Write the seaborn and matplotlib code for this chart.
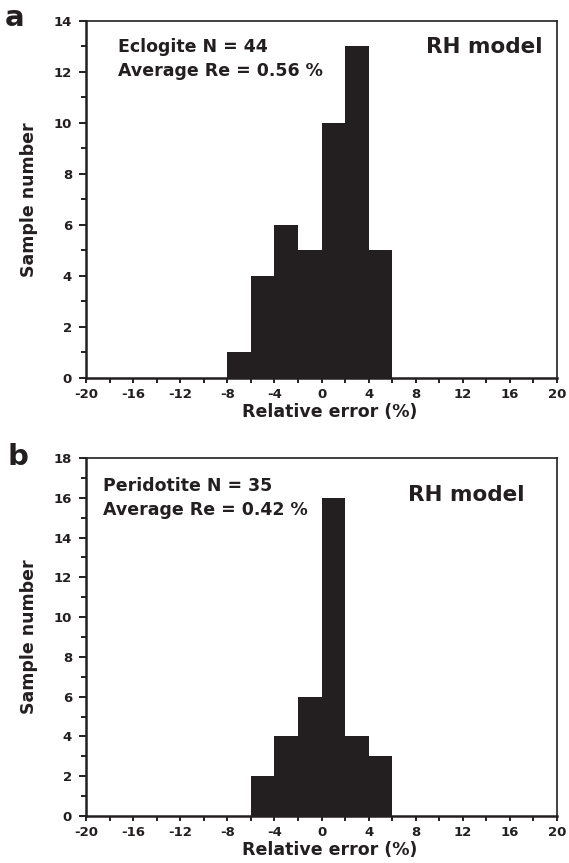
import numpy as np
import pandas as pd
import matplotlib
matplotlib.use("Agg")
import matplotlib.pyplot as plt
import seaborn as sns
from matplotlib.ticker import MultipleLocator

sns.set_theme(style="ticks")
plt.rcParams['font.family'] = ['DejaVu Sans']
plt.rcParams['font.weight'] = 'bold'

# Data
bin_centers_a = [-7, -5, -3, -1, 1, 3, 5]
counts_a = [1, 4, 6, 5, 10, 13, 5]
bin_centers_b = [-5, -3, -1, 1, 3, 5]
counts_b = [2, 4, 6, 16, 4, 3]
edges = [-8, -6, -4, -2, 0, 2, 4, 6]
x_ticks = [-20, -16, -12, -8, -4, 0, 4, 8, 12, 16, 20]

labels_a = ["Eclogite N = 44", "Average Re = 0.56 %"]
labels_b = ["Peridotite N = 35", "Average Re = 0.42 %"]

W, H = 569, 863
fig = plt.figure(figsize=(W/100, H/100), dpi=100)

def ax_rect(l, t, r, b):
    return [l/W, 1 - b/H, (r-l)/W, (b-t)/H]

ax1 = fig.add_axes(ax_rect(86, 21, 557, 378))
ax2 = fig.add_axes(ax_rect(86, 458, 557, 816))

color = '#231f20'

def draw(ax, centers, counts, ymax, lab, letter, pos):
    df = pd.DataFrame({'x': centers, 'w': counts})
    sns.histplot(data=df, x='x', weights='w', bins=edges, ax=ax,
                 color=color, alpha=1, edgecolor=color, linewidth=0)
    ax.set_xlim(-20, 20)
    ax.set_ylim(0, ymax)
    ax.set_xticks(x_ticks)
    ax.set_xticklabels([str(t) for t in x_ticks])
    ax.xaxis.set_minor_locator(MultipleLocator(2))
    ax.yaxis.set_major_locator(MultipleLocator(2))
    ax.yaxis.set_minor_locator(MultipleLocator(1))
    ax.tick_params(axis='x', which='both', direction='out', length=3.8, width=1.4,
                   color=color, labelcolor=color, labelsize=9.5, pad=3.5)
    ax.tick_params(axis='y', which='major', direction='out', length=5, width=1.4,
                   color=color, labelcolor=color, labelsize=9.5, pad=5)
    ax.tick_params(axis='y', which='minor', direction='out', length=3.6, width=1.4, color=color)
    for lbl in ax.get_xticklabels() + ax.get_yticklabels():
        lbl.set_fontweight('bold')
    for side in ['left', 'bottom']:
        ax.spines[side].set_linewidth(1.8)
        ax.spines[side].set_color(color)
    for side in ['top', 'right']:
        ax.spines[side].set_linewidth(1.2)
        ax.spines[side].set_color(color)
    ax.set_xlabel("Relative error (%)", fontsize=12.5, fontweight='bold', color=color, labelpad=1)
    ax.xaxis.label.set_horizontalalignment('center')
    ax.set_ylabel("Sample number", fontsize=12.5, fontweight='bold', color=color, labelpad=11.5)
    tx, ty1, ty2, rx, ry, lx, ly = pos
    ax.text(tx, ty1, lab[0], transform=ax.transAxes, fontsize=12.5,
            fontweight='bold', color=color, va='baseline', ha='left')
    ax.text(tx, ty2, lab[1], transform=ax.transAxes, fontsize=12.5,
            fontweight='bold', color=color, va='baseline', ha='left')
    ax.text(rx, ry, "RH model", transform=ax.transAxes, fontsize=15.5,
            fontweight='bold', color=color, va='baseline', ha='right')
    fig.text(lx, ly, letter, fontsize=21, fontweight='bold', color=color,
             va='baseline', ha='left')

draw(ax1, bin_centers_a, counts_a, 14, labels_a, 'a',
     (0.068, 0.913, 0.846, 0.970, 0.910, 5/W, 1 - 26/H))
draw(ax2, bin_centers_b, counts_b, 18, labels_b, 'b',
     (0.036, 0.908, 0.841, 0.932, 0.880, 8/W, 1 - 465/H))

# shift x labels slightly right, as in the reference
for ax in (ax1, ax2):
    x0, y0 = ax.xaxis.label.get_position()
fig.canvas.draw()
for ax in (ax1, ax2):
    lbl = ax.xaxis.label
    bb = lbl.get_window_extent()
    inv = ax.transAxes.inverted()
    ycoord = inv.transform((0, bb.y0))[1]
    ax.xaxis.set_label_coords(0.518, ycoord)
    lbl.set_verticalalignment('bottom')

fig.savefig("out.png", dpi=100)
